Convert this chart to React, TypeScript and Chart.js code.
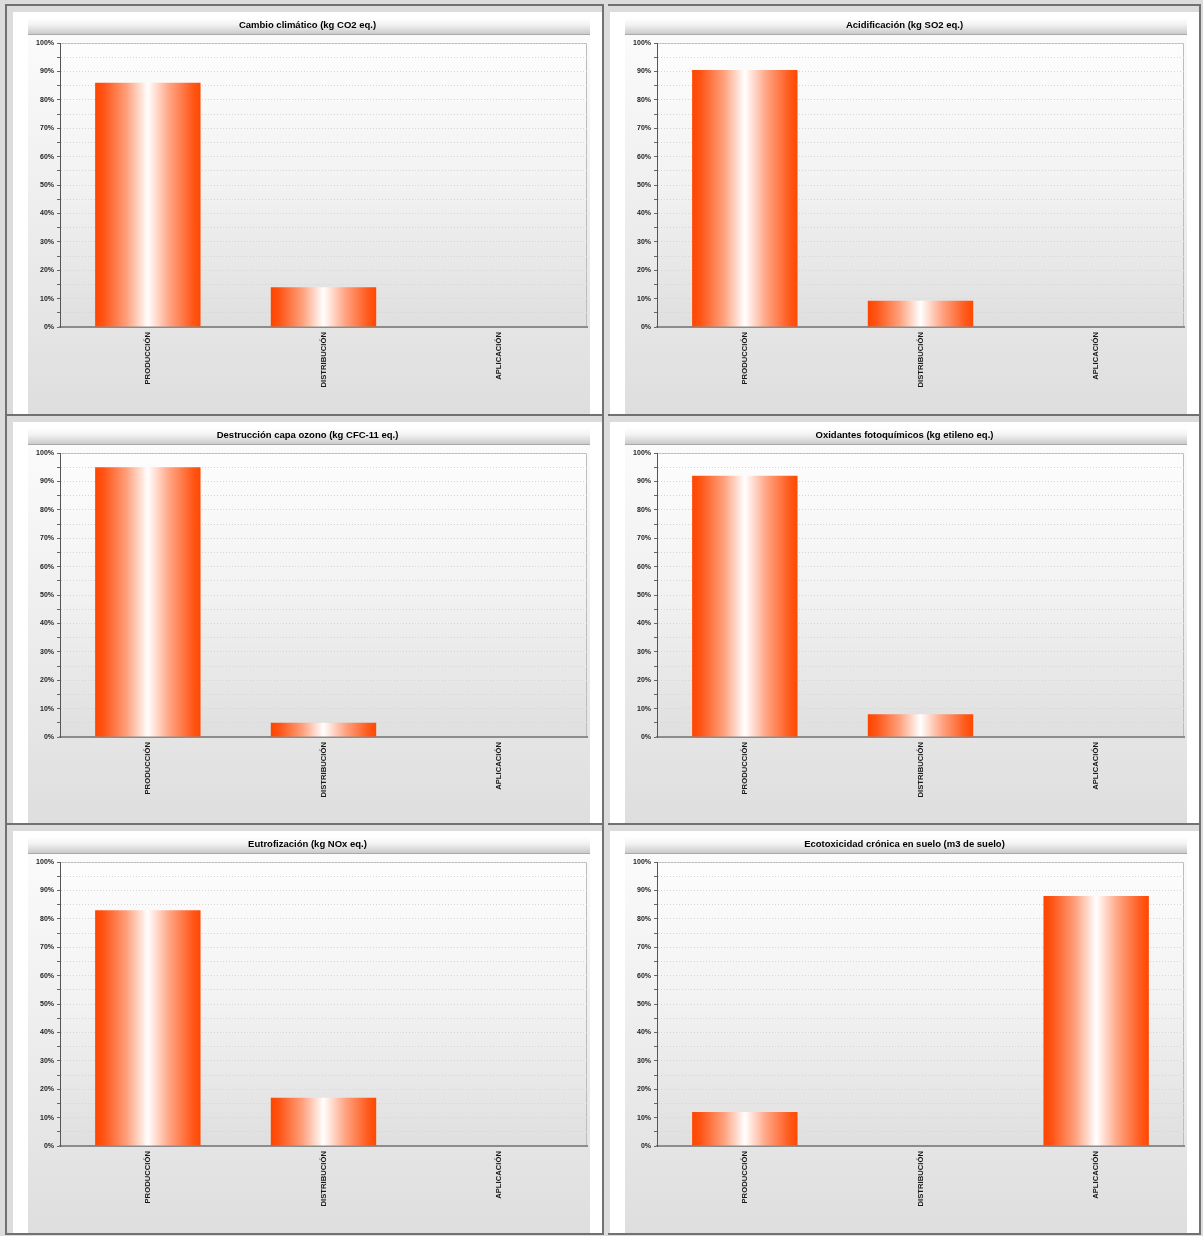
import React, { useEffect, useRef } from 'react';
import { Chart, registerables } from 'chart.js';

Chart.register(...registerables);

// ---- data ----
const categories = ['PRODUCCIÓN', 'DISTRIBUCIÓN', 'APLICACIÓN'];

const titleCambio = 'Cambio climático (kg CO2 eq.)';
const titleAcidificacion = 'Acidificación (kg SO2 eq.)';
const titleOzono = 'Destrucción capa ozono (kg CFC-11 eq.)';
const titleOxidantes = 'Oxidantes fotoquímicos (kg etileno eq.)';
const titleEutrofizacion = 'Eutrofización (kg NOx eq.)';
const titleEcotoxicidad = 'Ecotoxicidad crónica en suelo (m3 de suelo)';

const cambioClimatico = [86, 14, 0];
const acidificacion = [90.5, 9.2, 0];
const destruccionOzono = [95, 5, 0];
const oxidantesFotoquimicos = [92, 8, 0];
const eutrofizacion = [83, 17, 0];
const ecotoxicidad = [12, 0, 88];

const yMin = 0;
const yMax = 100;
const yStep = 5;
const yLabelEvery = 10;

const panelTitles = [titleCambio, titleAcidificacion, titleOzono, titleOxidantes, titleEutrofizacion, titleEcotoxicidad];
const panelValues = [cambioClimatico, acidificacion, destruccionOzono, oxidantesFotoquimicos, eutrofizacion, ecotoxicidad];

// ---- styling ----
const FONT = "'Liberation Sans', Arial, Helvetica, sans-serif";
const BAR_FRACTION = 0.6;
const CANVAS_W = 562;
const CANVAS_H = 396;
const TITLE_BAR_H = 17;

const bgPlugin = {
  id: 'panelBackground',
  beforeDraw(chart: any) {
    const { ctx, width, height, chartArea } = chart;
    ctx.save();
    let g = ctx.createLinearGradient(0, TITLE_BAR_H, 0, height);
    g.addColorStop(0, '#fbfbfb');
    g.addColorStop(1, '#dedede');
    ctx.fillStyle = g;
    ctx.fillRect(0, 0, width, height);

    g = ctx.createLinearGradient(0, 0, 0, TITLE_BAR_H);
    g.addColorStop(0, '#ffffff');
    g.addColorStop(0.4, '#f2f2f2');
    g.addColorStop(1, '#c6c6c6');
    ctx.fillStyle = g;
    ctx.fillRect(0, 0, width, TITLE_BAR_H);
    ctx.fillStyle = '#a9a9a9';
    ctx.fillRect(0, TITLE_BAR_H - 1, width, 1);

    if (chartArea) {
      const { left, top, right, bottom } = chartArea;
      g = ctx.createLinearGradient(0, top, 0, bottom);
      g.addColorStop(0, '#fdfdfd');
      g.addColorStop(0.5, '#f2f2f2');
      g.addColorStop(1, '#dfdfdf');
      ctx.fillStyle = g;
      ctx.fillRect(left, top, right - left, bottom - top);
      ctx.strokeStyle = '#bcbcbc';
      ctx.lineWidth = 1;
      ctx.strokeRect(left + 0.5, top + 0.5, right - left - 1, bottom - top - 1);
    }
    ctx.restore();
  },
};

const barFill = (c: any) => {
  const chart = c.chart;
  const area = chart.chartArea;
  const xs = chart.scales && chart.scales.x;
  if (!area || !xs || c.dataIndex === undefined) return '#ff4a00';
  const center = xs.getPixelForValue(c.dataIndex);
  const w = ((area.right - area.left) / categories.length) * BAR_FRACTION;
  const g = chart.ctx.createLinearGradient(center - w / 2, 0, center + w / 2, 0);
  g.addColorStop(0, '#ff4500');
  g.addColorStop(0.08, '#ff5414');
  g.addColorStop(0.3, '#ffa07c');
  g.addColorStop(0.5, '#ffffff');
  g.addColorStop(0.7, '#ffa686');
  g.addColorStop(0.92, '#ff5a1c');
  g.addColorStop(1, '#ff4800');
  return g;
};

function Panel({ title, values, index }: { title: string; values: number[]; index: number }) {
  const ref = useRef<HTMLCanvasElement | null>(null);
  const col = index % 2;
  const row = Math.floor(index / 2);
  const colX = col * 597;
  const rowY = [0, 410, 819][row];

  useEffect(() => {
    if (!ref.current) return;
    const chart = new Chart(ref.current, {
      type: 'bar',
      data: {
        labels: categories,
        datasets: [
          {
            data: values,
            backgroundColor: barFill as any,
            borderWidth: 0,
            barPercentage: BAR_FRACTION,
            categoryPercentage: 1,
          },
        ],
      },
      options: {
        animation: false,
        responsive: false,
        devicePixelRatio: 1,
        layout: { padding: { left: 0, right: 3, top: 0, bottom: 0 } },
        plugins: {
          legend: { display: false },
          tooltip: { enabled: false },
          title: {
            display: true,
            text: title,
            color: '#000000',
            font: { family: FONT, size: 9.5, weight: 'bold', lineHeight: 1.2 },
            padding: { top: 1.5, bottom: 12.1 },
          },
        },
        scales: {
          x: {
            grid: { display: false, drawTicks: false },
            border: { display: true, color: '#8c8c8c', width: 2 },
            ticks: {
              autoSkip: false,
              minRotation: 90,
              maxRotation: 90,
              padding: 5,
              color: '#1a1a1a',
              font: { family: FONT, size: 7.7, weight: 'bold' },
            },
            afterFit(s: any) {
              s.height = 87;
            },
          },
          y: {
            min: yMin,
            max: yMax,
            ticks: {
              stepSize: yStep,
              padding: 3,
              color: '#222222',
              font: { family: FONT, size: 7, weight: 'bold' },
              callback: (v: any) => (Number(v) % yLabelEvery === 0 ? v + '%' : ''),
            },
            grid: {
              color: '#d6d6d6',
              lineWidth: 1,
              tickLength: 3,
              tickColor: '#666666',
              tickWidth: 1,
            },
            border: { display: true, color: '#555555', width: 1, dash: [1, 2] },
            afterFit(s: any) {
              s.width = 32;
            },
          },
        },
      } as any,
      plugins: [bgPlugin],
    });
    return () => chart.destroy();
  }, [title, values]);

  const leftCol = col === 0;
  return (
    <>
      <div
        style={{
          position: 'absolute',
          boxSizing: 'border-box',
          left: leftCol ? colX + 5 : colX + 11,
          top: rowY + 4,
          width: leftCol ? 599 : 593,
          height: 412,
          borderTop: '2px solid #717171',
          borderBottom: '2px solid #717171',
          borderRight: '2px solid #717171',
          borderLeft: leftCol ? '2px solid #717171' : 'none',
          background: '#dcdcdc',
        }}
      />
      <div
        style={{
          position: 'absolute',
          left: colX + 13,
          top: rowY + 12,
          width: 589,
          height: 402,
          background: '#ffffff',
        }}
      />
      <canvas
        ref={ref}
        width={CANVAS_W}
        height={CANVAS_H}
        style={{ position: 'absolute', left: colX + 28, top: rowY + 18, width: CANVAS_W, height: CANVAS_H }}
      />
    </>
  );
}

export default function App() {
  return (
    <div
      style={{
        position: 'absolute',
        left: 0,
        top: 0,
        width: 1203,
        height: 1236,
        background: '#dcdcdc',
        overflow: 'hidden',
      }}
    >
      {panelTitles.map((t, i) => (
        <Panel key={i} index={i} title={t} values={panelValues[i]} />
      ))}
    </div>
  );
}
